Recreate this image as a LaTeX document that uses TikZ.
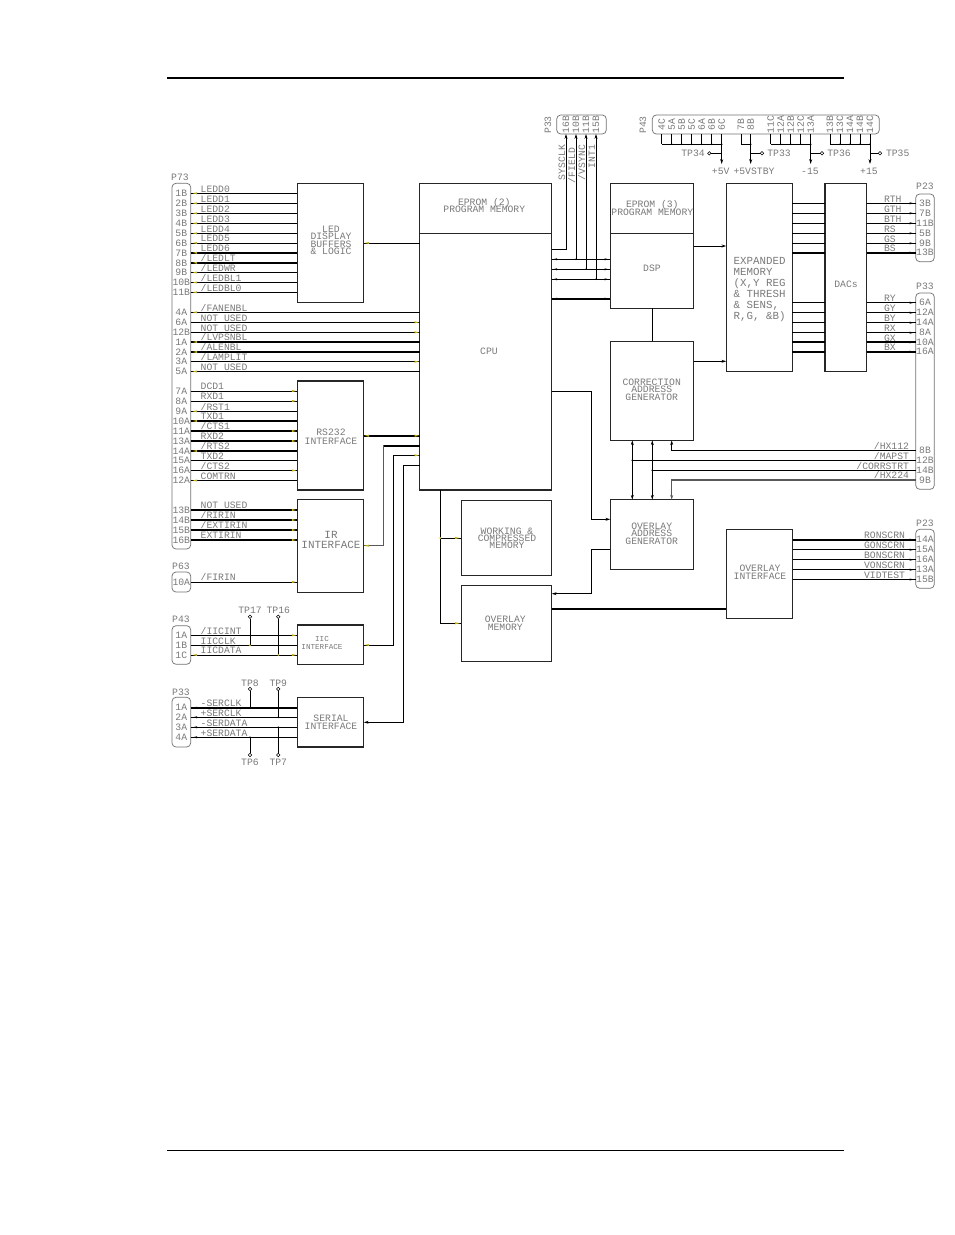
\documentclass[tikz,border=0pt]{standalone}
\usepackage{fontspec}
\setmainfont{Liberation Mono}
\usetikzlibrary{arrows.meta,calc}
\definecolor{txtgray}{gray}{0.48}
\definecolor{markyel}{HTML}{C8B000}
\newcommand\fs[2]{\fontsize{#1}{#2}\selectfont\lineskiplimit=-20pt\relax}
\tikzset{
 sig/.style={draw=black,line width=0.75pt},
 sigt/.style={draw=black,line width=1.6pt},
 sigg/.style={draw=black!65,line width=0.9pt},
 tip/.style={-{Stealth[length=3.6pt,width=2.2pt]}},
 rtip/.style={{Stealth[length=3.6pt,width=2.2pt]}-},
 btip/.style={{Stealth[length=3.6pt,width=2.2pt]}-{Stealth[length=3.6pt,width=2.2pt]}},
 boxn/.style={draw=black!85,line width=0.8pt,inner sep=0pt,outer sep=0pt},
 conn/.style={draw=black!55,line width=0.55pt,rounded corners=3pt,inner sep=0pt,outer sep=0pt},
 ltxt/.style={inner sep=0pt,outer sep=0pt,text=txtgray,font=\fs{7.3}{5.6}},
 btxt/.style={ltxt,align=center},
 tpc/.style={circle,draw=black,line width=0.4pt,inner sep=0pt,minimum size=2.6pt,fill=white},
}
% name x1 y1 x2 y2
\newcommand\Bx[6][boxn]{\node[#1,minimum width={(#5-#3)*0.75pt},minimum height={(#6-#4)*0.75pt}] (#2) at ({(#3+#5)/2},{(#4+#6)/2}) {};}
% colour x y dx dy
\newcommand\Tr[5]{\fill[#1] ({#2+#4},{#3+#5}) -- ({#2-#4+0.5*#5},{#3-#5+0.5*#4}) -- ({#2-#4-0.5*#5},{#3-#5-0.5*#4}) -- cycle;}
\newcommand\Ym[3]{\Tr{markyel}{#1}{#2}{#3}{0}}
\newcommand\Bm[3]{\Tr{black}{#1}{#2}{#3}{0}}
\newcommand\Dot[2]{\fill (#1,#2) circle (0.9);}
\newcommand\Yd[2]{\fill[markyel] (#1,#2) circle (1);}
% id connector y pin signal style target
\newcommand\Ls[7]{%
 \node[ltxt] (pin#1) at (181.3,#3) {#4};
 \coordinate (#1) at (#2.east |- 0,#3);
 \node[ltxt,anchor=base west] (txt#1) at (200.7,#3-1.2) {#5};
 \draw[#6] (#1) -- (#1 -| #7.west);
}
% id connector y pin signal style source
\newcommand\Rs[7]{%
 \node[ltxt] (pin#1) at (925,#3) {#4};
 \coordinate (#1) at (#2.west |- 0,#3);
 \node[ltxt,anchor=base west] (txt#1) at (884,#3-1.2) {#5};
 \draw[#6] (#7.east |- #1) -- (#1);
 \Bm{911.7}{#3}{2}
}
% id x pin y
\newcommand\Tp[3]{%
 \node[ltxt,rotate=90] (pin#1) at (#2,124.6) {#3};
 \coordinate (#1) at (#2,134);
}
\newcommand\Dl[2]{\draw[#2] (exp.east |- 0,#1) -- (dacs.west |- 0,#1);}
\begin{document}
\begin{tikzpicture}[x=0.75pt,y=-0.75pt]
\useasboundingbox (0,0) rectangle (954,1235);
\fill[white] (0,0) rectangle (954,1235);
% page rules
\draw[line width=1.5pt] (167,77.5) -- (844,77.5);
\draw[line width=0.75pt] (167,1150.5) -- (844,1150.5);
% connectors
\Bx[conn]{P73}{172}{183.3}{190.7}{549}
\Bx[conn]{P63}{172}{572}{190.7}{592}
\Bx[conn]{P43a}{172}{625.7}{190.7}{664.3}
\Bx[conn]{P33a}{172}{697.3}{190.7}{747}
\Bx[conn]{P33t}{556.7}{115}{606.3}{134}
\Bx[conn]{P43t}{652.3}{115}{879.3}{134}
\Bx[conn]{P23a}{915.7}{194}{934.3}{261.7}
\Bx[conn]{P33r}{915.7}{293}{934.3}{489.3}
\Bx[conn]{P23b}{915.7}{529.3}{934.3}{588.3}
\node[ltxt] (lP73) at (180,177) {P73};
\node[ltxt] (lP63) at (181,566) {P63};
\node[ltxt] (lP43a) at (181,619) {P43};
\node[ltxt] (lP33a) at (181,692) {P33};
\node[ltxt,rotate=90] (lP33t) at (548,125) {P33};
\node[ltxt,rotate=90] (lP43t) at (643,125) {P43};
\node[ltxt] (lP23a) at (925,186) {P23};
\node[ltxt] (lP33r) at (925,286) {P33};
\node[ltxt] (lP23b) at (925,523) {P23};
% boxes
\Bx{led}{297.3}{183.3}{363.7}{302.3}
\Bx{rs}{297.3}{381}{363.7}{490}
\Bx{ir}{297.3}{499.7}{363.7}{592.3}
\Bx{iic}{297.3}{625}{363.7}{664.3}
\Bx{ser}{297.3}{697.3}{363.7}{747}
\Bx{eprom2}{419.7}{183.3}{551.7}{233.3}
\Bx{cpu}{419.7}{233.3}{551.7}{490}
\Bx{eprom3}{610.3}{183.3}{693.7}{233.3}
\Bx{dsp}{610.3}{233.3}{693.7}{308.3}
\Bx{corr}{610.3}{341.3}{693.7}{440.3}
\Bx{ovaddr}{610.3}{499.7}{693.7}{569.3}
\Bx{work}{461.3}{500.3}{551.7}{575.7}
\Bx{ovmem}{461.3}{585.7}{551.7}{661.7}
\Bx{exp}{726.3}{183.3}{792.3}{371.3}
\Bx{dacs}{825}{183.3}{866.7}{371.3}
\Bx{ovif}{726.3}{529.3}{792.7}{618.3}
% box labels
\node[btxt] (tled) at (331,240.5) {LED\\DISPLAY\\BUFFERS\\\& LOGIC};
\node[btxt,font=\fs{7.3}{6.6}] (trs) at (331,436.5) {RS232\\INTERFACE};
\node[btxt,font=\fs{8.2}{7.9}] (tir) at (331,540) {IR\\INTERFACE};
\node[btxt,font=\fs{5.7}{6}] (tiic) at (322,643) {IIC\\INTERFACE};
\node[btxt,font=\fs{7.3}{5.8}] (tser) at (331,722) {SERIAL\\INTERFACE};
\node[btxt,font=\fs{7.3}{5.8}] (tep2) at (484.3,205.5) {EPROM (2)\\PROGRAM MEMORY};
\node[btxt,font=\fs{7.3}{6.2}] (tep3) at (652.3,208) {EPROM (3)\\PROGRAM MEMORY};
\node[btxt] (tdsp) at (652,268.3) {DSP};
\node[btxt] (tcpu) at (489,351.7) {CPU};
\node[btxt] (tcorr) at (651.7,389.5) {CORRECTION\\ADDRESS\\GENERATOR};
\node[btxt] (tova) at (651.7,533.5) {OVERLAY\\ADDRESS\\GENERATOR};
\node[btxt] (twork) at (507,538.3) {WORKING \&\\COMPRESSED\\MEMORY};
\node[btxt,font=\fs{7.3}{5.8}] (tovm) at (505.3,623) {OVERLAY\\MEMORY};
\node[ltxt,font=\fs{8.1}{8.2},align=left,anchor=north west] (texp) at (733.7,257.5) {EXPANDED\\MEMORY\\(X,Y REG\\\& THRESH\\\& SENS,\\R,G, \&B)};
\node[btxt] (tdac) at (846,284.3) {DACs};
\node[btxt,font=\fs{7.3}{6}] (tovi) at (760,572.3) {OVERLAY\\INTERFACE};
% P73 -> LED
\Ls{a1}{P73}{193.3}{1B}{LEDD0}{sig}{led}
\Ls{a2}{P73}{203.3}{2B}{LEDD1}{sig}{led}
\Ls{a3}{P73}{213.3}{3B}{LEDD2}{sig}{led}
\Ls{a4}{P73}{223.3}{4B}{LEDD3}{sig}{led}
\Ls{a5}{P73}{233.3}{5B}{LEDD4}{sig}{led}
\Ls{a6}{P73}{243}{6B}{LEDD5}{sig}{led}
\Ls{a7}{P73}{252.8}{7B}{LEDD6}{sigt}{led}
\Ls{a8}{P73}{262.8}{8B}{/LEDLT}{sigt}{led}
\Ls{a9}{P73}{272.5}{9B}{/LEDWR}{sig}{led}
\Ls{a10}{P73}{282.5}{10B}{/LEDBL1}{sig}{led}
\Ls{a11}{P73}{292.3}{11B}{/LEDBL0}{sig}{led}
% P73 -> CPU
\Ls{b1}{P73}{312.3}{4A}{/FANENBL}{sig}{cpu}
\Ls{b2}{P73}{322.3}{6A}{NOT USED}{sig}{cpu}
\Ls{b3}{P73}{332.3}{12B}{NOT USED}{sig}{cpu}
\Ls{b4}{P73}{342}{1A}{/LVPSNBL}{sigt}{cpu}
\Ls{b5}{P73}{352}{2A}{/ALENBL}{sigt}{cpu}
\Ls{b6}{P73}{361.7}{3A}{/LAMPLIT}{sig}{cpu}
\Ls{b7}{P73}{371.5}{5A}{NOT USED}{sig}{cpu}
% P73 -> RS232
\Ls{c1}{P73}{391}{7A}{DCD1}{sig}{rs}
\Ls{c2}{P73}{401}{8A}{RXD1}{sig}{rs}
\Ls{c3}{P73}{411.3}{9A}{/RST1}{sig}{rs}
\Ls{c4}{P73}{421}{10A}{TXD1}{sigt}{rs}
\Ls{c5}{P73}{431}{11A}{/CTS1}{sigt}{rs}
\Ls{c6}{P73}{441}{13A}{RXD2}{sigt}{rs}
\Ls{c7}{P73}{451}{14A}{/RTS2}{sigt}{rs}
\Ls{c8}{P73}{460.7}{15A}{TXD2}{sig}{rs}
\Ls{c9}{P73}{470.5}{16A}{/CTS2}{sig}{rs}
\Ls{c10}{P73}{480.5}{12A}{COMTRN}{sig}{rs}
% P73 -> IR
\Ls{d1}{P73}{510}{13B}{NOT USED}{sigt}{ir}
\Ls{d2}{P73}{520}{14B}{/RIRIN}{sigt}{ir}
\Ls{d3}{P73}{530}{15B}{/EXTIRIN}{sigt}{ir}
\Ls{d4}{P73}{540}{16B}{EXTIRIN}{sigt}{ir}
\Ls{d5}{P63}{582}{10A}{/FIRIN}{sig}{ir}
% IIC
\Ls{e1}{P43a}{635.3}{1A}{/IICINT}{sig}{iic}
\Ls{e2}{P43a}{645.3}{1B}{IICCLK}{sig}{iic}
\Ls{e3}{P43a}{655}{1C}{IICDATA}{sig}{iic}
% Serial
\Ls{f1}{P33a}{707.7}{1A}{-SERCLK}{sigt}{ser}
\Ls{f2}{P33a}{717.3}{2A}{+SERCLK}{sig}{ser}
\Ls{f3}{P33a}{727.3}{3A}{-SERDATA}{sig}{ser}
\Ls{f4}{P33a}{737.3}{4A}{+SERDATA}{sig}{ser}
% test points on left
\node[tpc] (tp17) at (250,616.7) {};
\node[tpc] (tp16) at (278.3,616.7) {};
\node[tpc] (tp8) at (250,689) {};
\node[tpc] (tp9) at (278.3,689) {};
\node[tpc] (tp6) at (250,755) {};
\node[tpc] (tp7) at (278.3,755) {};
\node[ltxt] (ltp17) at (250,610) {TP17};
\node[ltxt] (ltp16) at (278.3,610) {TP16};
\node[ltxt] (ltp8) at (250,683) {TP8};
\node[ltxt] (ltp9) at (278.3,683) {TP9};
\node[ltxt] (ltp6) at (250,762) {TP6};
\node[ltxt] (ltp7) at (278.3,762) {TP7};
\draw[sig] (tp17) -- (tp17 |- e2);
\draw[sig] (tp16) -- (tp16 |- e3);
\draw[sig] (tp8) -- (tp8 |- f1);
\draw[sig] (tp9) -- (tp9 |- f2);
\draw[sig] (tp6) -- (tp6 |- f4);
\draw[sig] (tp7) -- (tp7 |- f3);
% left box -> CPU
\draw[sig] (led.east |- 0,243) -- (cpu.west |- 0,243);
\draw[sigt] (rs.east |- 0,435.7) -- (cpu.west |- 0,435.7);
\draw[sigg] (ir.east |- 0,545.7) -- (383.7,545.7) |- (cpu.west |- 0,445.7);
\draw[sigt] (383.7,445.7) -- (cpu.west |- 0,445.7);
\draw[sig] (iic.east |- 0,645) -- (393.7,645) |- (cpu.west |- 0,455.3);
\draw[sig,tip] (cpu.west |- 0,465) -- (403.7,465) |- (ser.east |- 0,722.3);
% top P33
\Tp{t16B}{566}{16B}
\Tp{t10B}{576}{10B}
\Tp{t11B}{586}{11B}
\Tp{t15B}{596}{15B}
\draw[sig,rtip] (t16B) |- (cpu.east |- 0,249.3);
\draw[sig,rtip] (t10B) -- (t10B |- 0,259.3);
\draw[sig,rtip] (t11B) -- (t11B |- 0,269.3);
\draw[sig,rtip] (t15B) -- (t15B |- 0,279.3);
\node[ltxt,rotate=90,anchor=base east] (sSYS) at (565,145) {SYSCLK};
\node[ltxt,rotate=90,anchor=base east] (sFLD) at (575,148) {/FIELD};
\node[ltxt,rotate=90,anchor=base east] (sVSY) at (585,145) {/VSYNC};
\node[ltxt,rotate=90,anchor=base east] (sINT) at (595,145) {INT1};
% CPU - DSP
\draw[sig] (cpu.east |- 0,259.3) -- (dsp.west |- 0,259.3);
\draw[sig] (cpu.east |- 0,269.3) -- (dsp.west |- 0,269.3);
\draw[sig] (cpu.east |- 0,279.3) -- (dsp.west |- 0,279.3);
\draw[sigt] (cpu.east |- 0,298.7) -- (dsp.west |- 0,298.7);
% top P43
\Tp{u1}{661.7}{4C}\Tp{u2}{671.7}{5A}\Tp{u3}{681.7}{5B}\Tp{u4}{691.7}{5C}\Tp{u5}{701.7}{6A}\Tp{u6}{711.7}{6B}\Tp{u7}{721.7}{6C}
\Tp{v1}{741}{7B}\Tp{v2}{750.7}{8B}
\Tp{w1}{770.7}{11C}\Tp{w2}{780.7}{12A}\Tp{w3}{790.7}{12B}\Tp{w4}{800.7}{12C}\Tp{w5}{810.7}{13A}
\Tp{x1}{830}{13B}\Tp{x2}{840}{13C}\Tp{x3}{850}{14A}\Tp{x4}{860}{14B}\Tp{x5}{870}{14C}
\foreach \n in {u1,u2,u3,u4,u5,u6,v1,w1,w2,w3,w4,x1,x2,x3,x4}{\draw[sig] (\n) -- (\n |- 0,144.3);}
\draw[sig] (u1 |- 0,144.3) -- (u7 |- 0,144.3);
\draw[sig] (v1 |- 0,144.3) -- (v2 |- 0,144.3);
\draw[sig] (w1 |- 0,144.3) -- (w5 |- 0,144.3);
\draw[sig] (x1 |- 0,144.3) -- (x5 |- 0,144.3);
\foreach \q in {671.7,681.7,691.7,701.7,711.7,721.7,750.7,780.7,790.7,800.7,810.7,840,850,860,870}{\Dot{\q}{144.3}}
\draw[sig,tip] (u7) -- (u7 |- 0,164);
\draw[sig,tip] (v2) -- (v2 |- 0,164);
\draw[sig,tip] (w5) -- (w5 |- 0,164);
\draw[sig,tip] (x5) -- (x5 |- 0,164);
\node[tpc] (tp34) at (709.3,153.3) {};
\node[tpc] (tp33) at (762,153.3) {};
\node[tpc] (tp36) at (822,153.3) {};
\node[tpc] (tp35) at (880,153.3) {};
\draw[sig] (tp34) -- (tp34 -| u7);
\draw[sig] (tp33) -- (tp33 -| v2);
\draw[sig] (tp36) -- (tp36 -| w5);
\draw[sig] (tp35) -- (tp35 -| x5);
\node[ltxt] (ltp34) at (693,153.3) {TP34};
\node[ltxt] (ltp33) at (779,153.3) {TP33};
\node[ltxt] (ltp36) at (839,153.3) {TP36};
\node[ltxt] (ltp35) at (897.7,153.3) {TP35};
\node[ltxt] (v5) at (720.7,171) {+5V};
\node[ltxt] (v5s) at (754,171) {+5VSTBY};
\node[ltxt] (vm15) at (810,171) {-15};
\node[ltxt] (vp15) at (869,171) {+15};
% EXP - DAC
\Dl{203.3}{sig}\Dl{213.3}{sig}\Dl{223.3}{sig}\Dl{233.3}{sig}\Dl{243.3}{sig}\Dl{252.7}{sigt}
\Dl{302.7}{sig}\Dl{312.7}{sig}\Dl{322.7}{sig}\Dl{332.7}{sig}\Dl{342.3}{sigt}\Dl{351.7}{sigt}
% DAC -> right connectors
\Rs{g1}{P23a}{203.3}{3B}{RTH}{sig}{dacs}
\Rs{g2}{P23a}{213.3}{7B}{GTH}{sig}{dacs}
\Rs{g3}{P23a}{223.3}{11B}{BTH}{sig}{dacs}
\Rs{g4}{P23a}{233.3}{5B}{RS}{sig}{dacs}
\Rs{g5}{P23a}{243.3}{9B}{GS}{sig}{dacs}
\Rs{g6}{P23a}{252.7}{13B}{BS}{sigt}{dacs}
\Rs{h1}{P33r}{302.7}{6A}{RY}{sig}{dacs}
\Rs{h2}{P33r}{312.7}{12A}{GY}{sig}{dacs}
\Rs{h3}{P33r}{322.7}{14A}{BY}{sig}{dacs}
\Rs{h4}{P33r}{332.7}{8A}{RX}{sig}{dacs}
\Rs{h5}{P33r}{342.3}{10A}{GX}{sigt}{dacs}
\Rs{h6}{P33r}{351.7}{16A}{BX}{sigt}{dacs}
% middle connections
\draw[sig,tip] (dsp.east |- 0,246) -- (exp.west |- 0,246);
\draw[sig,tip] (corr.east |- 0,361.3) -- (exp.west |- 0,361.3);
\draw[sig] (dsp.south) -- (corr.north);
\draw[sig,tip] (cpu.east |- 0,391.3) -- (591.3,391.3) |- (ovaddr.west |- 0,519.3);
\draw[sig,tip] (ovaddr.west |- 0,549.3) -- (591.3,549.3) |- (ovmem.east |- 0,593.7);
\draw[sigt] (ovmem.east |- 0,609) -- (ovif.west |- 0,609);
\draw[sig] (440.3,490) -- (440.3,538) -- (work.west |- 0,538);
\draw[sig] (440.3,538) |- (ovmem.west |- 0,623.3);
% lower-right P33 pins
\foreach \i/\y/\p/\n in {k1/450.3/8B/{/HX112},k2/460.3/12B/{/MAPST},k3/470.3/14B/{/CORRSTRT},k4/480/9B/{/HX224}}{
 \node[ltxt] (pin\i) at (925,\y) {\p};
 \coordinate (\i) at (P33r.west |- 0,\y);
 \node[ltxt,anchor=base east] (txt\i) at (909,\y-1.2) {\n};
}
\draw[sig,tip] (k1) -| (671.7,440.3);
\draw[sig] (k2) -- (632.3,460.3);
\draw[sig] (k3) -- (652.3,470.3);
\draw[sigg,tip] (k4) -| (671.7,499.7);
\draw[sig,btip] (632.3,440.3) -- (632.3,499.7);
\draw[sig,btip] (652.3,440.3) -- (652.3,499.7);
\Dot{632.3}{460.3}\Dot{652.3}{470.3}
% overlay interface -> P23
\Rs{m1}{P23b}{539.7}{14A}{}{sigt}{ovif}
\Rs{m2}{P23b}{549.7}{15A}{}{sig}{ovif}
\Rs{m3}{P23b}{559.7}{16A}{}{sig}{ovif}
\Rs{m4}{P23b}{569.7}{13A}{}{sig}{ovif}
\Rs{m5}{P23b}{579.5}{15B}{}{sig}{ovif}
\node[ltxt,anchor=base east] (sm1) at (905,538.3) {RONSCRN};
\node[ltxt,anchor=base east] (sm2) at (905,548.3) {GONSCRN};
\node[ltxt,anchor=base east] (sm3) at (905,558.3) {BONSCRN};
\node[ltxt,anchor=base east] (sm4) at (905,568.3) {VONSCRN};
\node[ltxt,anchor=base east] (sm5) at (905,578.3) {VIDTEST};
% small markers
\foreach \y in {193.3,203.3,213.3,223.3,233.3,243,252.8,262.8,272.5,282.5,292.3,312.3,342,352,371.5,411.3,421,451,480.5,655}{\Ym{195}{\y}{-2.2}}
\foreach \y in {322.3,332.3,361.7,435.7,455.3}{\Ym{416.7}{\y}{2.2}}
\foreach \y in {391,401,431,441,470.5,510,520,530,540,582,635.3,655}{\Ym{294}{\y}{2.2}}
\foreach \y in {243,435.7,545.7,645}{\Ym{367}{\y}{-2.2}}
\foreach \y in {707.7,717.3,727.3,737.3}{\Bm{195}{\y}{-2}}
\foreach \y in {259.3,269.3,279.3,298.7}{\Bm{555}{\y}{-2}\Bm{606.7}{\y}{2}}
\Ym{457.3}{538}{2.2}\Ym{457.3}{623.3}{2.2}
\Yd{440.3}{538}\Yd{250}{645.3}\Yd{278.3}{655}
\foreach \q/\y in {576/259.3,586/269.3,596/279.3,278.3/717.3,278.3/727.3,250/737.3,250/707.7}{\Dot{\q}{\y}}
\end{tikzpicture}
\end{document}
